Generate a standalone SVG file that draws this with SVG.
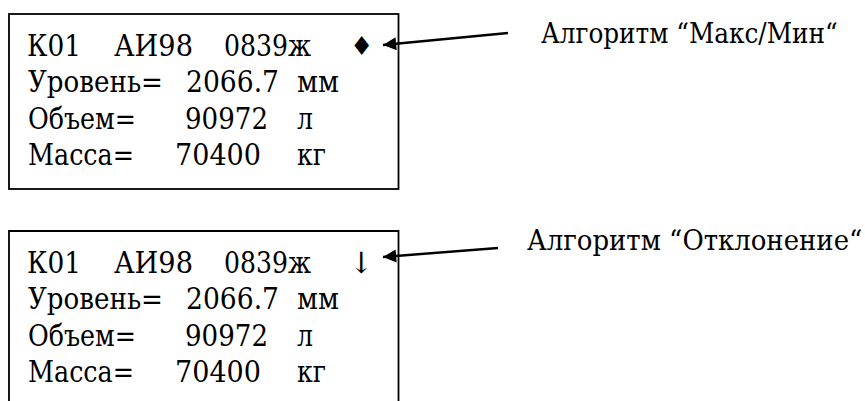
<svg xmlns="http://www.w3.org/2000/svg" width="865" height="401" viewBox="0 0 865 401">
<style>
text{font-family:'DejaVu Serif',serif;fill:#000}
.t{font-size:29.5px}
.lbl{font-size:27.5px}
.sym{font-family:'DejaVu Sans',sans-serif;font-size:26px}
.box{fill:none;stroke:#000;stroke-width:1.8}
.conn{stroke:#000;stroke-width:2.4;fill:none}
</style>
<defs>
<marker id="ah" viewBox="0 0 10 10" refX="10" refY="5" markerWidth="7.5" markerHeight="5.5" markerUnits="strokeWidth" orient="auto"><path d="M0,0 L10,5 L0,10 z" fill="#000"/></marker>
</defs>
<rect width="865" height="401" fill="#fff"/>
<g id="display1">
<rect class="box" x="9" y="14" width="389.5" height="175"/>
<text class="t" x="27" y="56" textLength="54" lengthAdjust="spacingAndGlyphs">К01</text>
<text class="t" x="114" y="56" textLength="79" lengthAdjust="spacingAndGlyphs">АИ98</text>
<text class="t" x="224" y="56" textLength="87" lengthAdjust="spacingAndGlyphs">0839ж</text>
<text class="sym" x="350" y="55">♦</text>
<text class="t" x="28" y="92" textLength="135" lengthAdjust="spacingAndGlyphs">Уровень=</text>
<text class="t" x="186" y="92" textLength="93" lengthAdjust="spacingAndGlyphs">2066.7</text>
<text class="t" x="297" y="92" textLength="42" lengthAdjust="spacingAndGlyphs">мм</text>
<text class="t" x="28" y="128.5" textLength="108" lengthAdjust="spacingAndGlyphs">Объем=</text>
<text class="t" x="185" y="128.5" textLength="83" lengthAdjust="spacingAndGlyphs">90972</text>
<text class="t" x="297" y="128.5" textLength="16" lengthAdjust="spacingAndGlyphs">л</text>
<text class="t" x="28" y="165" textLength="106" lengthAdjust="spacingAndGlyphs">Масса=</text>
<text class="t" x="175" y="165" textLength="86" lengthAdjust="spacingAndGlyphs">70400</text>
<text class="t" x="297" y="165" textLength="29" lengthAdjust="spacingAndGlyphs">кг</text>
</g>
<g id="display2">
<path class="box" d="M9,402 V231 H398.5 V402"/>
<text class="t" x="27" y="273" textLength="54" lengthAdjust="spacingAndGlyphs">К01</text>
<text class="t" x="114" y="273" textLength="79" lengthAdjust="spacingAndGlyphs">АИ98</text>
<text class="t" x="224" y="273" textLength="87" lengthAdjust="spacingAndGlyphs">0839ж</text>
<text class="t" x="349" y="273">↓</text>
<text class="t" x="28" y="309" textLength="135" lengthAdjust="spacingAndGlyphs">Уровень=</text>
<text class="t" x="186" y="309" textLength="93" lengthAdjust="spacingAndGlyphs">2066.7</text>
<text class="t" x="297" y="309" textLength="42" lengthAdjust="spacingAndGlyphs">мм</text>
<text class="t" x="28" y="345.5" textLength="108" lengthAdjust="spacingAndGlyphs">Объем=</text>
<text class="t" x="185" y="345.5" textLength="83" lengthAdjust="spacingAndGlyphs">90972</text>
<text class="t" x="297" y="345.5" textLength="16" lengthAdjust="spacingAndGlyphs">л</text>
<text class="t" x="28" y="382" textLength="106" lengthAdjust="spacingAndGlyphs">Масса=</text>
<text class="t" x="175" y="382" textLength="86" lengthAdjust="spacingAndGlyphs">70400</text>
<text class="t" x="297" y="382" textLength="29" lengthAdjust="spacingAndGlyphs">кг</text>
</g>
<g id="label1"><text class="lbl" transform="translate(541,43) scale(0.88,1)" x="0" y="0" textLength="337" lengthAdjust="spacingAndGlyphs">Алгоритм “Макс/Мин“</text></g>
<g id="label2"><text class="lbl" transform="translate(527,250) scale(0.88,1)" x="0" y="0" textLength="381" lengthAdjust="spacingAndGlyphs">Алгоритм “Отклонение“</text></g>
<g id="connectors">
<line class="conn" x1="508" y1="33" x2="383" y2="45" marker-end="url(#ah)"/>
<line class="conn" x1="498" y1="248" x2="383" y2="257" marker-end="url(#ah)"/>
</g>
</svg>
